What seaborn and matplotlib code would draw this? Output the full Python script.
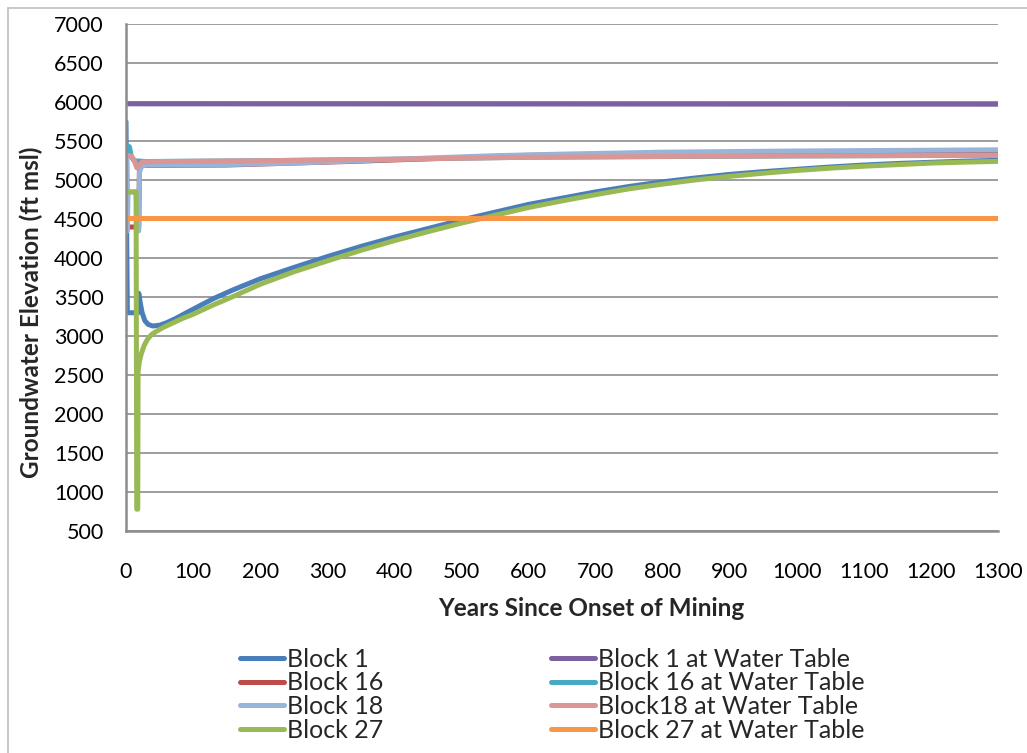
import numpy as np
import pandas as pd
import seaborn as sns
import matplotlib.pyplot as plt
from matplotlib.lines import Line2D

# values (years, ft msl)
block1_years = [0, 1, 2, 18, 19, 21, 24, 28, 33, 40, 50, 60, 75, 90, 110, 130, 160, 200, 250, 300, 350, 400,
                450, 500, 550, 600, 650, 700, 750, 800, 850, 900, 950, 1000, 1050, 1100, 1150, 1200, 1250, 1300]
block1_elev = [5750, 4300, 3300, 3300, 3550, 3440, 3300, 3200, 3150, 3130, 3140, 3170, 3230, 3300, 3390, 3480,
               3595, 3735, 3880, 4020, 4150, 4270, 4380, 4490, 4590, 4690, 4770, 4850, 4920, 4980, 5030, 5075,
               5110, 5140, 5170, 5195, 5215, 5230, 5245, 5255]

block16_years = [0, 1, 2, 19, 20, 25, 150, 350, 600, 1000, 1300]
block16_elev = [5300, 5300, 4400, 4400, 5150, 5190, 5195, 5245, 5320, 5365, 5380]

block18_years = [0, 1, 2, 3, 15, 17, 19, 20, 23, 30, 150, 250, 350, 450, 550, 650, 800, 1000, 1300]
block18_elev = [5300, 5300, 4350, 4850, 4850, 4350, 4350, 5100, 5180, 5195, 5200, 5220, 5250, 5285, 5315, 5335,
                5360, 5375, 5390]

block27_years = [0, 15, 16, 17.5, 18, 20, 23, 27, 32, 38, 45, 55, 70, 85, 100, 130, 160, 200, 250, 300, 350,
                 400, 450, 500, 550, 600, 650, 700, 750, 800, 850, 900, 950, 1000, 1050, 1100, 1150, 1200, 1250,
                 1300]
block27_elev = [4850, 4850, 780, 780, 2550, 2680, 2780, 2880, 2960, 3020, 3060, 3110, 3170, 3230, 3280, 3400,
                3510, 3665, 3825, 3965, 4100, 4225, 4340, 4450, 4550, 4650, 4735, 4815, 4890, 4950, 5005, 5050,
                5090, 5125, 5155, 5180, 5200, 5220, 5232, 5242]

block1_wt_years = [0, 1300]
block1_wt_elev = [5980, 5975]

block16_wt_years = [0, 5, 8, 12, 30, 200, 400, 600, 1000, 1300]
block16_wt_elev = [5450, 5430, 5300, 5250, 5240, 5250, 5270, 5295, 5312, 5320]

block18_wt_years = [0, 8, 12, 16, 19, 24, 50, 200, 400, 600, 800, 1000, 1300]
block18_wt_elev = [5320, 5310, 5260, 5160, 5190, 5235, 5240, 5250, 5270, 5295, 5305, 5312, 5320]

block27_wt_years = [0, 1300]
block27_wt_elev = [4520, 4520]

series = {
    "Block 1": (block1_years, block1_elev),
    "Block 16": (block16_years, block16_elev),
    "Block 16 at Water Table": (block16_wt_years, block16_wt_elev),
    "Block 18": (block18_years, block18_elev),
    "Block18 at Water Table": (block18_wt_years, block18_wt_elev),
    "Block 27": (block27_years, block27_elev),
    "Block 1 at Water Table": (block1_wt_years, block1_wt_elev),
    "Block 27 at Water Table": (block27_wt_years, block27_wt_elev),
}
color_map = {
    "Block 1": "#4A7EBB",
    "Block 16": "#BE4B48",
    "Block 18": "#98B4D8",
    "Block 27": "#98B954",
    "Block 1 at Water Table": "#7D60A0",
    "Block 16 at Water Table": "#46AAC5",
    "Block18 at Water Table": "#DA9694",
    "Block 27 at Water Table": "#F79646",
}
legend_order = ["Block 1", "Block 16", "Block 18", "Block 27",
                "Block 1 at Water Table", "Block 16 at Water Table",
                "Block18 at Water Table", "Block 27 at Water Table"]

rows = []
for name, (yrs, elev) in series.items():
    for i in range(len(yrs)):
        rows.append({"Years": yrs[i], "Elevation": elev[i], "Series": name})
df = pd.DataFrame(rows)

sns.set_style("white")
plt.rcParams['font.family'] = ['Lato', 'DejaVu Sans']
tick_font_size = 15.5
axis_label_font_size = 17.5
legend_font_size = 18
grid_color = "#8C8C8C"

fig = plt.figure(figsize=(10.27, 7.53), dpi=100)
ax = fig.add_axes([0.1227, 0.2948, 0.8491, 0.6729])

sns.lineplot(data=df, x="Years", y="Elevation", hue="Series", hue_order=list(series.keys()),
             palette=color_map, sort=False, estimator=None, units="Series", linewidth=3.6,
             legend=False, ax=ax)

ax.set_xlim(0, 1300)
ax.set_ylim(500, 7000)
ax.set_xticks(range(0, 1301, 100))
ax.set_yticks(range(500, 7001, 500))
ax.yaxis.grid(True, color=grid_color, linewidth=1.2)
ax.set_axisbelow(True)
for s in ["top", "right"]:
    ax.spines[s].set_visible(False)
for s in ["left", "bottom"]:
    ax.spines[s].set_color(grid_color)
    ax.spines[s].set_linewidth(1.8)
ax.tick_params(axis="both", direction="out", length=5, width=1.2, color=grid_color,
               labelsize=tick_font_size, labelcolor="black")
ax.tick_params(axis="x", pad=17)
ax.tick_params(axis="y", pad=11)

ax.set_xlabel("Years Since Onset of Mining", fontsize=axis_label_font_size, fontweight="bold")
ax.set_ylabel("Groundwater Elevation (ft msl)", fontsize=axis_label_font_size, fontweight="bold")
ax.xaxis.set_label_coords(0.533, -0.13)
ax.yaxis.set_label_coords(-0.095, 0.432)

handles = [Line2D([0], [0], color=color_map[n], linewidth=3.6) for n in legend_order]
fig.legend(handles, legend_order, loc="upper left", bbox_to_anchor=(0.2337, 0.140), ncol=2, frameon=False,
           fontsize=legend_font_size, handlelength=1.76, handletextpad=0.12, columnspacing=6.7,
           labelspacing=0.03, borderpad=0, borderaxespad=0)

# chart border (left and top edges visible)
fig.add_artist(Line2D([8 / 1027, 8 / 1027], [0, 1 - 8 / 753], color="#BFBFBF", linewidth=1.2))
fig.add_artist(Line2D([8 / 1027, 1], [1 - 8 / 753, 1 - 8 / 753], color="#BFBFBF", linewidth=1.2))

plt.savefig("out.png", dpi=100)
